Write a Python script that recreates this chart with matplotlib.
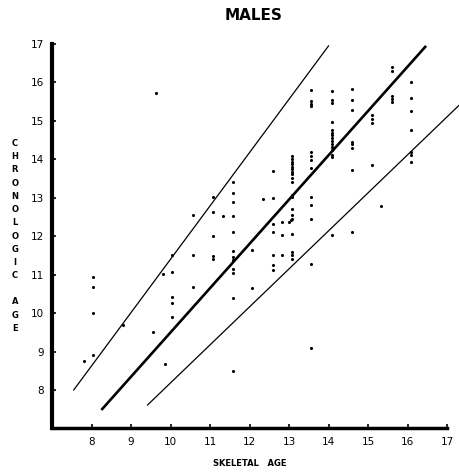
import matplotlib
matplotlib.use("Agg")
import matplotlib.pyplot as plt

# skeletal age (x) vs chronologic age (y)
skeletal = [
    7.82,
    8.05, 8.05, 8.05, 8.05,
    8.8, 9.55, 9.64, 9.81, 9.86,
    10.05, 10.05, 10.05, 10.05, 10.05,
    10.57, 10.57, 10.57,
    11.08, 11.08, 11.08, 11.08, 11.08,
    11.33,
    11.58, 11.58, 11.58, 11.58, 11.58, 11.58, 11.58, 11.58, 11.58, 11.58, 11.58, 11.58,
    12.06, 12.06,
    12.33,
    12.6, 12.6, 12.6, 12.6, 12.6, 12.6, 12.6,
    12.83, 12.83, 12.83,
    13.08, 13.08, 13.08, 13.08, 13.08, 13.08, 13.08, 13.08, 13.08, 13.08,
    13.08, 13.08, 13.08, 13.08, 13.08, 13.05, 13.0, 13.08, 13.08, 13.08, 13.08,
    13.56, 13.56, 13.56, 13.56, 13.56, 13.56, 13.56, 13.56, 13.56, 13.56, 13.56, 13.56, 13.56,
    14.1, 14.1, 14.1, 14.1, 14.1, 14.1, 14.1, 14.1, 14.1, 14.1, 14.1, 14.1, 14.1, 14.1, 14.1,
    14.6, 14.6, 14.6, 14.6, 14.6, 14.6, 14.6, 14.6,
    15.1, 15.1, 15.1, 15.1,
    15.34,
    15.6, 15.6, 15.6, 15.6, 15.6,
    16.1, 16.1, 16.1, 16.1, 16.1, 16.1, 16.1,
    17.08, 17.08,
]
chronologic = [
    8.76,
    10.95, 10.67, 10.0, 8.92,
    9.70, 9.52, 15.72, 11.01, 8.67,
    11.51, 11.07, 10.41, 10.26, 9.91,
    12.55, 11.5, 10.67,
    13.03, 12.62, 12.0, 11.48, 11.40,
    12.52,
    13.42, 13.12, 12.89, 12.52, 12.11, 11.62, 11.47, 11.38, 11.14, 11.04, 10.38, 8.49,
    11.63, 10.65,
    12.96,
    13.69, 13.0, 12.32, 12.11, 11.51, 11.25, 11.12,
    12.36, 12.02, 11.5,
    14.09, 14.02, 13.94, 13.88, 13.81, 13.74, 13.68, 13.61, 13.51, 13.42,
    13.07, 13.01, 12.72, 12.55, 12.46, 12.42, 12.38, 12.06, 11.6, 11.5, 11.4,
    15.80, 15.52, 15.45, 15.38, 14.18, 14.09, 13.98, 13.77, 13.03, 12.8, 12.45, 11.27, 9.08,
    15.78, 15.53, 15.46, 14.96, 14.76, 14.69, 14.62, 14.55, 14.48, 14.4, 14.33, 14.23, 14.11, 14.05, 12.03,
    15.82, 15.53, 15.27, 14.46, 14.39, 14.29, 13.72, 12.1,
    15.14, 15.05, 14.95, 13.86,
    12.78,
    16.39, 16.30, 15.64, 15.57, 15.48,
    16.0, 15.59, 15.25, 14.75, 14.18, 14.11, 13.92,
    16.64, 15.28,
]

# regression line and the two limit lines (end points)
mid_x = [8.25, 16.47]
mid_y = [7.48, 16.95]
upper_x = [7.55, 14.0]
upper_y = [8.0, 16.95]
lower_x = [9.42, 17.36]
lower_y = [7.61, 15.46]

ticks = list(range(8, 18))

fig = plt.figure(figsize=(4.59, 4.76), dpi=100)
ax = fig.add_axes([0.1133, 0.1, 0.8606, 0.8076])

ax.scatter(skeletal, chronologic, s=5, color="black", linewidths=0, zorder=3)
ax.plot(mid_x, mid_y, color="black", lw=1.9, solid_capstyle="butt", clip_on=False)
ax.plot(upper_x, upper_y, color="black", lw=0.9, clip_on=False)
ax.plot(lower_x, lower_y, color="black", lw=0.9, clip_on=False)

ax.set_xlim(7, 17)
ax.set_ylim(7, 17)
ax.set_xticks(ticks)
ax.set_yticks(ticks)
ax.tick_params(direction="in", length=3, width=1.2, labelsize=7.5, pad=6)

for side in ("top", "right"):
    ax.spines[side].set_visible(False)
ax.spines["left"].set_linewidth(3)
ax.spines["bottom"].set_linewidth(2.5)

fig.text(254 / 459, 1 - 15 / 476, "MALES", ha="center", va="center",
         fontsize=11, fontweight="bold")
fig.text(250 / 459, 1 - 464 / 476, "SKELETAL   AGE", ha="center", va="center",
         fontsize=6, fontweight="bold")
fig.text(15 / 459, 1 - 236 / 476, "\n".join("CHRONOLOGIC AGE"), ha="center",
         va="center", fontsize=6, fontweight="bold", linespacing=1.6)

fig.savefig("out.png", dpi=100)
